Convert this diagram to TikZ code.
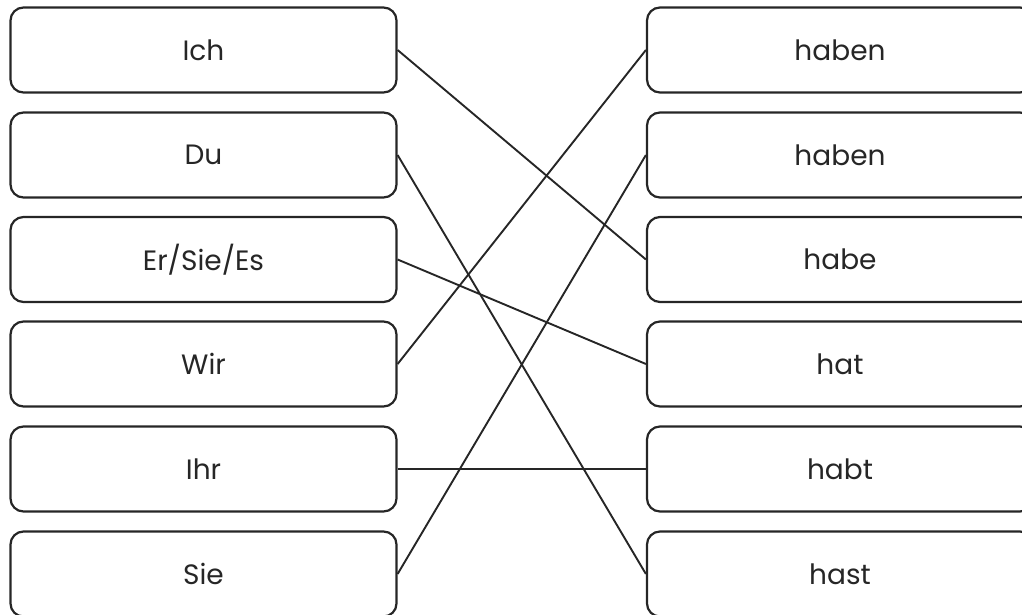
\documentclass[tikz,border=0pt]{standalone}
\usepackage{fontspec}
\setmainfont{Poppins}
\begin{document}
\begin{tikzpicture}
                [x=1pt, y=-1pt,
                 word/.style={draw=black!85, rectangle, rounded corners=13pt, minimum width=386pt, minimum height=85pt, line width=2.2pt, inner sep=0pt, font=\fontsize{28}{32}\selectfont, text=black!85},
                 link/.style={draw=black!85, line width=1.9pt}]
                \useasboundingbox (0,0) rectangle (1022,615);
                \clip (0,0) rectangle (1022,615);
                % Define nodes
                \node[word] (Ich) at (203.5,50) {Ich};
                \node[word] (Du) at (203.5,155) {Du};
                \node[word] (ErSieEs) at (203.5,259.5) {Er/Sie/Es};
                \node[word] (Wir) at (203.5,364) {Wir};
                \node[word] (Ihr) at (203.5,469) {Ihr};
                \node[word] (Sie) at (203.5,574) {Sie};
                \node[word] (haben 1) at (840,50) {haben};
                \node[word] (haben 2) at (840,155) {haben};
                \node[word] (habe) at (840,259.5) {habe};
                \node[word] (hat) at (840,364) {hat};
                \node[word] (habt) at (840,469) {habt};
                \node[word] (hast) at (840,574) {hast};
                % Define edges
                \draw[link] (Ich.east) -- (habe.west);
                \draw[link] (Du.east) -- (hast.west);
                \draw[link] (ErSieEs.east) -- (hat.west);
                \draw[link] (Wir.east) -- (haben 1.west);
                \draw[link] (Ihr.east) -- (habt.west);
                \draw[link] (Sie.east) -- (haben 2.west);
            \end{tikzpicture}
\end{document}
